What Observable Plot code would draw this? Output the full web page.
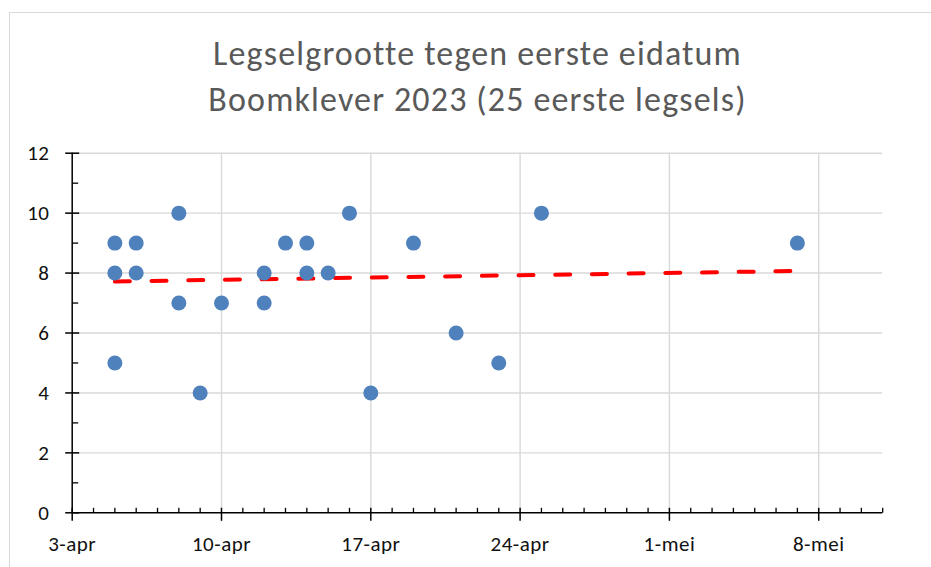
<!DOCTYPE html>
<html>
<head>
<meta charset="utf-8">
<script src="https://cdn.jsdelivr.net/npm/d3@7"></script>
<script src="https://cdn.jsdelivr.net/npm/@observablehq/plot@0.6"></script>
<style>
  html, body { margin: 0; padding: 0; background: #fff; width: 931px; height: 567px; overflow: hidden; }
  #frame { position: absolute; left: 9px; top: 12px; width: 1000px; height: 700px;
           border-left: 1.5px solid #d9d9d9; border-top: 1.5px solid #d9d9d9; z-index: 3; pointer-events: none; }
  #title { position: absolute; left: 0; top: 30.5px; width: 955px; text-align: center;
           font-family: Carlito, Calibri, "Liberation Sans", Arial, sans-serif; font-size: 34px;
           letter-spacing: 1.15px; line-height: 46px; color: #595959; white-space: nowrap; }
  #chart { position: absolute; left: 0; top: 140px; }
  #chart svg text { letter-spacing: 0.5px; }
</style>
</head>
<body>
<div id="frame"></div>
<div id="title">Legselgrootte tegen eerste eidatum<br>Boomklever 2023 (25 eerste legsels)</div>
<div id="chart"></div>
<script>
// ---- data ----
const eggDates = ["2023-04-05","2023-04-05","2023-04-05","2023-04-06","2023-04-06","2023-04-08","2023-04-08",
  "2023-04-09","2023-04-10","2023-04-12","2023-04-12","2023-04-13","2023-04-14","2023-04-14","2023-04-15",
  "2023-04-16","2023-04-17","2023-04-19","2023-04-21","2023-04-23","2023-04-25","2023-05-07"];
const clutchSizes = [9, 8, 5, 9, 8, 10, 7, 4, 7, 8, 7, 9, 9, 8, 8, 10, 4, 9, 6, 5, 10, 9];

const trendDates = ["2023-04-05", "2023-05-07"];
const trendValues = [7.72, 8.07];

const xDomain = ["2023-04-03", "2023-05-11"];
const xTickDates = ["2023-04-03","2023-04-10","2023-04-17","2023-04-24","2023-05-01","2023-05-08"];
const xTickLabels = ["3-apr","10-apr","17-apr","24-apr","1-mei","8-mei"];
const yTicks = [0, 2, 4, 6, 8, 10, 12];
const yMinorTicks = [1, 3, 5, 7, 9, 11];

// ---- derived tables ----
const parse = s => new Date(s + "T00:00:00Z");
const points = eggDates.map((d, i) => ({date: parse(d), size: clutchSizes[i]}));
const trend = trendDates.map((d, i) => ({date: parse(d), value: trendValues[i]}));
const xStart = parse(xDomain[0]), xEnd = parse(xDomain[1]);
const majorX = xTickDates.map(parse);
const labelMap = new Map(majorX.map((d, i) => [+d, xTickLabels[i]]));
const allDays = d3.utcDay.range(xStart, d3.utcDay.offset(xEnd, 1));
const minorX = allDays.filter(d => !labelMap.has(+d));

// tick glyphs (Excel style: major crosses, minor inside)
const tickXMajor = {draw(c) { c.moveTo(0, -5); c.lineTo(0, 8); }};
const tickXMinor = {draw(c) { c.moveTo(0, -5); c.lineTo(0, 0); }};
const tickYMajor = {draw(c) { c.moveTo(-7, 0); c.lineTo(7, 0); }};
const tickYMinor = {draw(c) { c.moveTo(0, 0); c.lineTo(6, 0); }};

const font = "Carlito, Calibri, 'Liberation Sans', Arial, sans-serif";
const gridColor = "#d9d9d9";

const chart = Plot.plot({
  width: 931,
  height: 427,
  marginLeft: 71.7,
  marginRight: 48.8,
  marginTop: 12.7,
  marginBottom: 54.7,
  style: {fontFamily: font, fontSize: "21px", color: "#111", background: "transparent", overflow: "visible"},
  x: {type: "utc", domain: [xStart, xEnd]},
  y: {domain: [0, 12]},
  marks: [
    // gridlines
    Plot.ruleY(yTicks.filter(v => v > 0), {x1: xStart, x2: xEnd, stroke: gridColor, strokeWidth: 1.4}),
    Plot.ruleX(majorX.slice(1), {y1: 0, y2: 12, stroke: gridColor, strokeWidth: 1.4}),
    // axis lines
    Plot.ruleY([0], {x1: xStart, x2: xEnd, stroke: "#000", strokeWidth: 1.5}),
    Plot.ruleX([xStart], {y1: 0, y2: 12, stroke: "#000", strokeWidth: 1.5}),
    // tick marks
    Plot.dot(majorX, {x: d => d, y: () => 0, symbol: tickXMajor, stroke: "#000", strokeWidth: 1.5, fill: "none"}),
    Plot.dot(minorX, {x: d => d, y: () => 0, symbol: tickXMinor, stroke: "#000", strokeWidth: 1.3, fill: "none"}),
    Plot.dot(yTicks, {x: () => xStart, y: d => d, symbol: tickYMajor, stroke: "#000", strokeWidth: 1.5, fill: "none"}),
    Plot.dot(yMinorTicks, {x: () => xStart, y: d => d, symbol: tickYMinor, stroke: "#000", strokeWidth: 1.3, fill: "none"}),
    // tick labels
    Plot.axisX(majorX, {anchor: "bottom", tickSize: 0, tickPadding: 22.8, fontSize: 21,
      tickFormat: d => labelMap.get(+d), label: null}),
    Plot.axisY(yTicks, {anchor: "left", tickSize: 0, tickPadding: 22.7, fontSize: 21, label: null}),
    // trendline
    Plot.line(trend, {x: "date", y: "value", stroke: "#ff0000", strokeWidth: 4,
      strokeDasharray: "15,21.7", strokeLinecap: "round"}),
    // data points
    Plot.dot(points, {x: "date", y: "size", r: 7.5, fill: "#4f81bd", stroke: "none"})
  ]
});
document.getElementById("chart").appendChild(chart);
</script>
</body>
</html>
